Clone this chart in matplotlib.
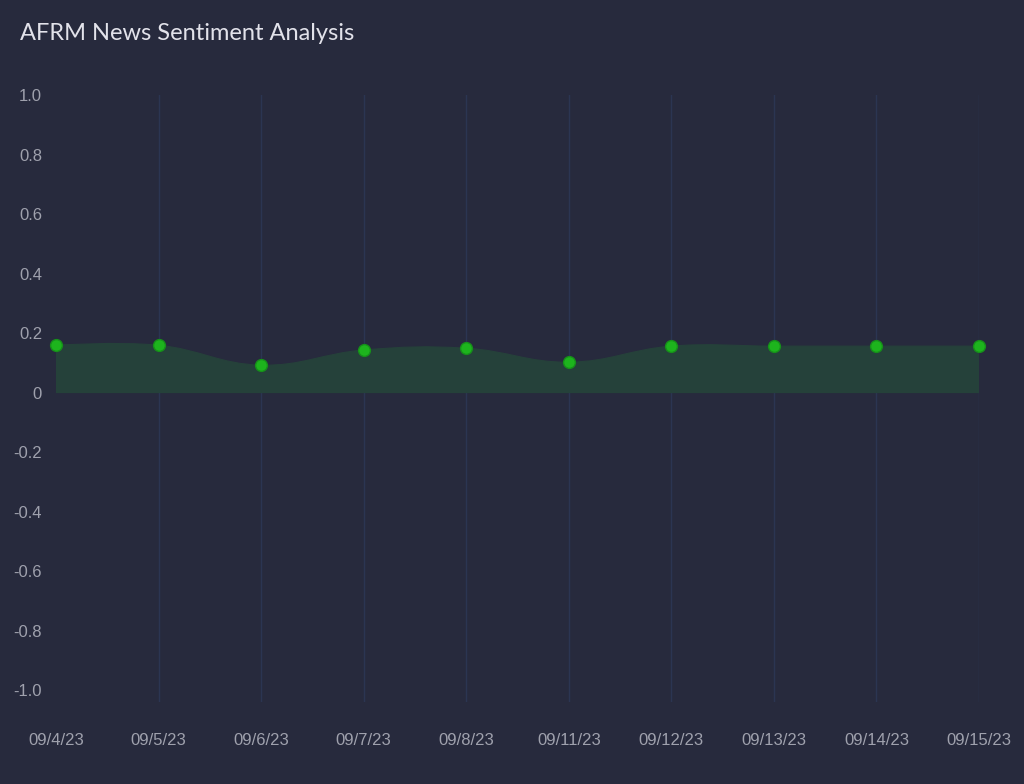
import matplotlib.pyplot as plt
from matplotlib.path import Path
from matplotlib.patches import PathPatch

# data
dates = ["09/4/23", "09/5/23", "09/6/23", "09/7/23", "09/8/23",
         "09/11/23", "09/12/23", "09/13/23", "09/14/23", "09/15/23"]
sentiment = [0.159, 0.159, 0.092, 0.143, 0.149, 0.102, 0.156, 0.156, 0.156, 0.156]
y_ticks = [1.0, 0.8, 0.6, 0.4, 0.2, 0, -0.2, -0.4, -0.6, -0.8, -1.0]
y_labels = ["1.0", "0.8", "0.6", "0.4", "0.2", "0", "-0.2", "-0.4", "-0.6", "-0.8", "-1.0"]

bg = "#272a3d"
x = list(range(len(dates)))

fig = plt.figure(figsize=(10.24, 7.84), dpi=100, facecolor=bg)
ax = fig.add_axes([56 / 1024, 1 - 702 / 784, (979 - 56) / 1024, (702 - 95) / 784])
ax.set_facecolor(bg)

# smooth area (bezier segments like a tensioned line chart)
t = 0.4
verts = [(x[0], 0), (x[0], sentiment[0])]
codes = [Path.MOVETO, Path.LINETO]
n = len(x)
for i in range(n - 1):
    p0 = max(i - 1, 0)
    p2 = min(i + 2, n - 1)
    c1 = (x[i] + t / 2 * (x[i + 1] - x[p0]), sentiment[i] + t / 2 * (sentiment[i + 1] - sentiment[p0]))
    c2 = (x[i + 1] - t / 2 * (x[p2] - x[i]), sentiment[i + 1] - t / 2 * (sentiment[p2] - sentiment[i]))
    if i == 0:
        c1 = (x[i], sentiment[i])
    if i == n - 2:
        c2 = (x[i + 1], sentiment[i + 1])
    verts += [c1, c2, (x[i + 1], sentiment[i + 1])]
    codes += [Path.CURVE4] * 3
verts += [(x[-1], 0), (x[0], 0)]
codes += [Path.LINETO, Path.CLOSEPOLY]
ax.add_patch(PathPatch(Path(verts, codes), facecolor="#25413a", edgecolor="#25413a", lw=0.8, zorder=2))

# vertical grid lines
for xi in x[1:]:
    ax.axvline(xi, color="#2b3552", lw=1, zorder=1)

ax.plot(x, sentiment, linestyle="none", marker="o", markersize=8.5, clip_on=False,
        markerfacecolor="#1db41d", markeredgecolor="#16901a", markeredgewidth=1, zorder=3)

ax.set_xlim(0, n - 1)
ax.set_ylim(-1.04, 1.0)
ax.set_yticks(y_ticks)
ax.set_yticklabels(y_labels)
ax.set_xticks(x)
ax.set_xticklabels(dates)
for s in ax.spines.values():
    s.set_visible(False)
ax.tick_params(axis="both", length=0, colors="#9fa1ad", labelsize=12)
ax.tick_params(axis="y", pad=10)
ax.tick_params(axis="x", pad=22)
for lab in ax.get_xticklabels() + ax.get_yticklabels():
    lab.set_family("Liberation Sans")

fig.text(20 / 1024, 1 - 33 / 784, "AFRM News Sentiment Analysis", color="#e2e2ea",
         fontsize=17, family="Lato", fontweight="normal", va="center", ha="left")

fig.savefig("out.png", dpi=100, facecolor=bg)
